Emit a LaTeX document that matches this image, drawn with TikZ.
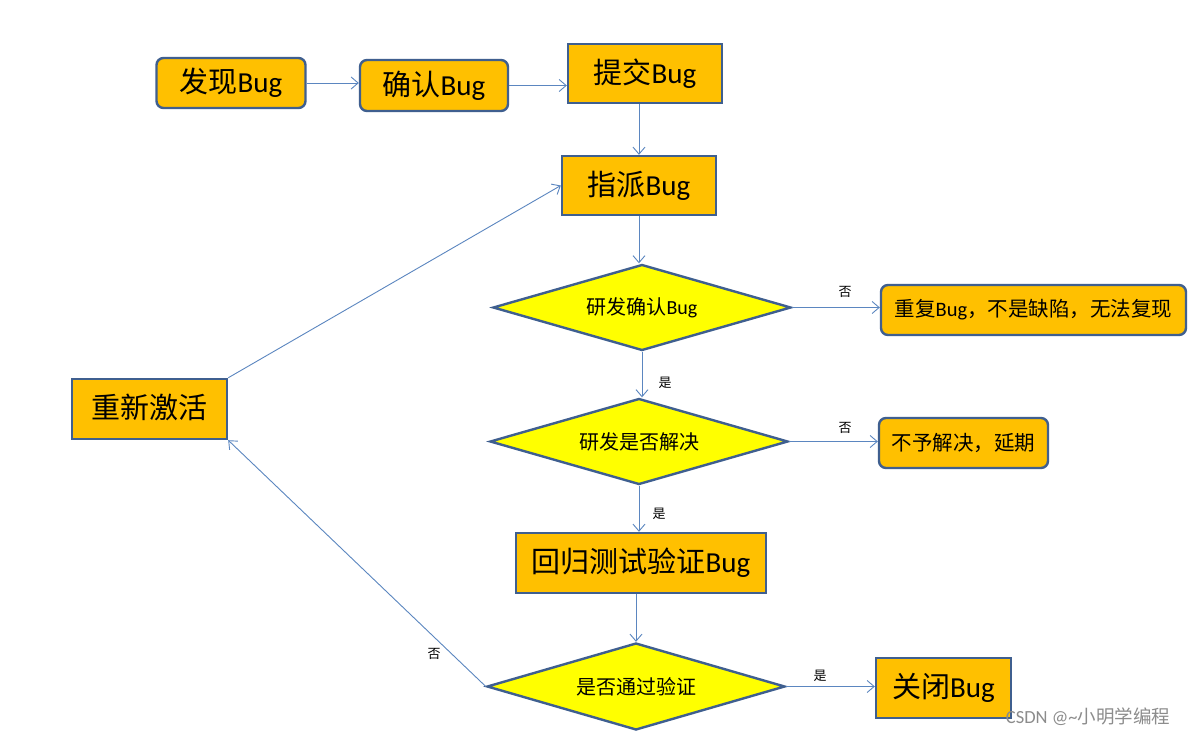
\documentclass[tikz,border=0pt]{standalone}
\usepackage{fontspec}
\setmainfont{Carlito}
\newfontfamily\cjk{Noto Sans CJK SC}
\usetikzlibrary{shapes.geometric,arrows.meta}
\definecolor{boxfill}{HTML}{FFC000}
\definecolor{boxline}{HTML}{3F5F8F}
\definecolor{dfill}{HTML}{FFFF00}
\definecolor{conn}{HTML}{5B86C0}
\tikzset{
  rbox/.style={draw=boxline, line width=2.4pt, fill=boxfill, rounded corners=7pt, inner sep=0pt},
  sbox/.style={draw=boxline, line width=2.4pt, fill=boxfill, inner sep=0pt},
  dia/.style={diamond, aspect=3.5, draw=boxline, line width=2.4pt, fill=dfill, inner sep=0pt, minimum width=298pt, minimum height=86pt, font=\fontsize{20pt}{24pt}\selectfont},
  big/.style={font=\fontsize{29pt}{33pt}\selectfont},
  mid/.style={font=\fontsize{20.5pt}{24pt}\selectfont},
  lbl/.style={font=\cjk\fontsize{13pt}{15pt}\selectfont, inner sep=0pt},
  conline/.style={draw=conn, line width=0.9pt, -{Straight Barb[length=7pt,width=12pt,line width=0.9pt]}},
}
\begin{document}
\begin{tikzpicture}[x=1pt,y=-1pt]
\useasboundingbox (0,0) rectangle (1197,736);
\fill[white] (0,0) rectangle (1197,736);
% boxes
\node[rbox, big, minimum width=149pt, minimum height=50pt] (find) at (231,83) {\raisebox{1pt}{{\cjk 发现}Bug}\hspace{4pt}};
\node[rbox, big, minimum width=148pt, minimum height=51pt] (confirm) at (434,85.5) {\raisebox{0pt}{{\cjk 确认}Bug}\hspace{4pt}};
\node[sbox, big, minimum width=154pt, minimum height=59pt] (submit) at (645,73.5) {\raisebox{5pt}{{\cjk 提交}Bug}};
\node[sbox, big, minimum width=154pt, minimum height=59pt] (assign) at (639,185.5) {\raisebox{5pt}{{\cjk 指派}Bug}};
\node[dia] (dev) at (642,307.5) {{\cjk 研发确认}Bug};
\node[rbox, mid, minimum width=305pt, minimum height=50pt] (dup) at (1033.5,310) {{\cjk 重复}Bug{\cjk ，不是缺陷，无法复现}};
\node[dia] (solve) at (639,441.5) {\cjk 研发是否解决};
\node[rbox, mid, minimum width=169pt, minimum height=50pt] (defer) at (963.5,443) {\cjk 不予解决，延期};
\node[sbox, big, minimum width=250pt, minimum height=60pt] (regress) at (641,563) {\raisebox{5pt}{{\cjk 回归测试验证}Bug}};
\node[dia, minimum height=87pt] (pass) at (636,686.5) {\cjk 是否通过验证};
\node[sbox, big, minimum width=135pt, minimum height=60pt] (close) at (943.5,688) {\raisebox{5pt}{{\cjk 关闭}Bug}\hspace{10pt}};
\node[sbox, big, minimum width=155pt, minimum height=60pt] (react) at (149.5,409) {\raisebox{6pt}{\cjk 重新激活}\hspace{18pt}};
% connectors
\draw[conline] (find.east) -- (confirm.west |- find.east);
\draw[conline] (confirm.east) -- (submit.west |- confirm.east);
\draw[conline] (submit.south -| assign.north) -- (assign.north);
\draw[conline] (assign.south) -- (assign.south |- dev.north);
\draw[conline] (dev.south) -- (solve.north -| dev.south);
\draw[conline] (dev.east) -- (dup.west |- dev.east);
\draw[conline] (solve.east) -- (defer.west |- solve.east);
\draw[conline] (solve.south) -- (regress.north -| solve.south);
\draw[conline] (regress.south -| pass.north) -- (pass.north);
\draw[conline] (pass.east) -- (close.west |- pass.east);
\draw[conline] (pass.west) -- (react.south east);
\draw[conline] (react.north east) -- (assign.west);
% labels
\node[lbl] (l1) at (845,292) {否};
\node[lbl] (l2) at (665,383) {是};
\node[lbl] (l3) at (845,428) {否};
\node[lbl] (l4) at (659,514) {是};
\node[lbl] (l5) at (820,676) {是};
\node[lbl] (l6) at (434,654) {否};
% watermark
\node[font=\fontsize{18.5pt}{21pt}\selectfont, text=black!45, inner sep=0pt] (wm) at (1088,717) {CSDN @\textasciitilde{\cjk 小明学编程}};
\end{tikzpicture}
\end{document}
